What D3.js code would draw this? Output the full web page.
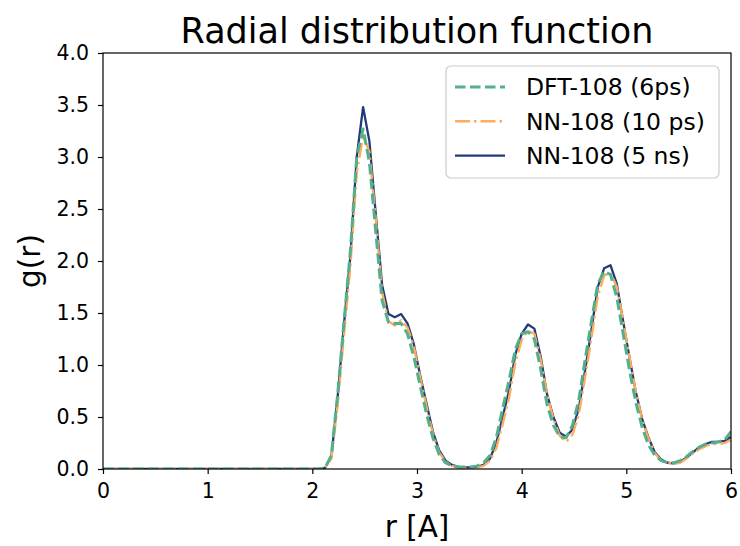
<!DOCTYPE html>
<html>
<head>
<meta charset="utf-8">
<script src="https://cdn.jsdelivr.net/npm/d3@7/dist/d3.min.js"></script>
<style>
  html, body { margin: 0; padding: 0; background: #fff; }
  svg { display: block; font-family: "DejaVu Sans", sans-serif; }
</style>
</head>
<body>
<svg id="chart" width="740" height="546"></svg>
<script>
// r grid: 100 points from 0 to 6 (r_k = k * 6 / 99)
const nPoints = 100;
const rMax = 6;

// g(r) values for k = 35..99 (k = 0..34 are zero)
const zerosBefore = 35;
const dft108_6ps = [
  0.01, 0.13, 0.72, 1.42, 2.10, 3.00, 3.27, 2.95, 2.28, 1.62,
  1.41, 1.40, 1.40, 1.30, 1.08, 0.80, 0.53, 0.30, 0.14, 0.06,
  0.03, 0.02, 0.02, 0.02, 0.03, 0.06, 0.13, 0.30, 0.58, 0.85,
  1.15, 1.30, 1.32, 1.25, 0.96, 0.62, 0.42, 0.31, 0.30, 0.42,
  0.66, 1.05, 1.42, 1.78, 1.90, 1.87, 1.65, 1.30, 0.95, 0.64,
  0.40, 0.23, 0.13, 0.08, 0.06, 0.06, 0.08, 0.12, 0.17, 0.21,
  0.24, 0.25, 0.26, 0.28, 0.36
];
const nn108_10ps = [
  0.01, 0.10, 0.62, 1.30, 1.95, 2.85, 3.20, 3.05, 2.40, 1.70,
  1.42, 1.38, 1.43, 1.36, 1.18, 0.88, 0.60, 0.34, 0.16, 0.07,
  0.03, 0.015, 0.01, 0.01, 0.015, 0.03, 0.08, 0.20, 0.43, 0.68,
  1.02, 1.24, 1.33, 1.30, 1.05, 0.72, 0.48, 0.32, 0.26, 0.33,
  0.52, 0.88, 1.26, 1.66, 1.86, 1.89, 1.75, 1.42, 1.07, 0.74,
  0.47, 0.29, 0.15, 0.08, 0.06, 0.05, 0.06, 0.10, 0.15, 0.19,
  0.22, 0.24, 0.24, 0.25, 0.28
];
const nn108_5ns = [
  0.01, 0.12, 0.70, 1.40, 2.05, 3.00, 3.48, 3.15, 2.45, 1.77,
  1.49, 1.46, 1.49, 1.40, 1.20, 0.90, 0.63, 0.36, 0.18, 0.08,
  0.04, 0.02, 0.015, 0.015, 0.02, 0.04, 0.10, 0.25, 0.50, 0.75,
  1.10, 1.30, 1.39, 1.35, 1.08, 0.72, 0.50, 0.35, 0.31, 0.38,
  0.58, 0.95, 1.34, 1.75, 1.93, 1.96, 1.78, 1.42, 1.07, 0.74,
  0.48, 0.30, 0.16, 0.09, 0.06, 0.055, 0.07, 0.11, 0.16, 0.21,
  0.24, 0.26, 0.26, 0.27, 0.31
];

const xTicks = [0, 1, 2, 3, 4, 5, 6];
const yTicks = [0, 0.5, 1.0, 1.5, 2.0, 2.5, 3.0, 3.5, 4.0];
const seriesNames = ["DFT-108 (6ps)", "NN-108 (10 ps)", "NN-108 (5 ns)"];
const seriesColors = ["#52b08c", "#ffac5c", "#253a78"];
const titleText = "Radial distribution function";
const xLabel = "r [A]";
const yLabel = "g(r)";

function buildSeries(vals) {
  const full = new Array(zerosBefore).fill(0).concat(vals);
  return full.map((g, k) => ({ r: k * rMax / (nPoints - 1), g }));
}
const series = [dft108_6ps, nn108_10ps, nn108_5ns].map(buildSeries);
const styles = [
  { width: 3, dash: "10.5,4.5" },
  { width: 2.4, dash: "15,4,2.5,4" },
  { width: 2.3, dash: null }
];

const svg = d3.select("#chart");
const m = { left: 103, right: 731, top: 53, bottom: 469 };
const x = d3.scaleLinear().domain([0, 6]).range([m.left, m.right]);
const y = d3.scaleLinear().domain([0, 4]).range([m.bottom, m.top]);

svg.append("defs").append("clipPath").attr("id", "clip")
  .append("rect").attr("x", m.left).attr("y", m.top)
  .attr("width", m.right - m.left).attr("height", m.bottom - m.top);

const line = d3.line().x(d => x(d.r)).y(d => y(d.g));
const drawOrder = [2, 1, 0];
const plot = svg.append("g").attr("clip-path", "url(#clip)");
drawOrder.forEach(i => {
  plot.append("path").datum(series[i])
    .attr("fill", "none")
    .attr("stroke", seriesColors[i])
    .attr("stroke-width", styles[i].width)
    .attr("stroke-dasharray", styles[i].dash)
    .attr("stroke-linejoin", "round")
    .attr("d", line);
});

// frame
svg.append("rect").attr("x", m.left).attr("y", m.top)
  .attr("width", m.right - m.left).attr("height", m.bottom - m.top)
  .attr("fill", "none").attr("stroke", "#000").attr("stroke-width", 1.2);

// axes
const xAxis = svg.append("g").attr("transform", `translate(0,${m.bottom})`)
  .call(d3.axisBottom(x).tickValues(xTicks).tickFormat(d3.format("d")).tickSize(5).tickPadding(9));
const yAxis = svg.append("g").attr("transform", `translate(${m.left},0)`)
  .call(d3.axisLeft(y).tickValues(yTicks).tickFormat(d3.format(".1f")).tickSize(5).tickPadding(9));
[xAxis, yAxis].forEach(a => {
  a.select(".domain").remove();
  a.selectAll(".tick line").attr("stroke", "#000").attr("stroke-width", 1.2);
  a.selectAll(".tick text").attr("fill", "#000")
    .style("font-size", "20.5px").style("font-family", "DejaVu Sans, sans-serif");
});

// title and labels
svg.append("text").attr("x", (m.left + m.right) / 2).attr("y", 43)
  .attr("text-anchor", "middle").style("font-size", "35px").text(titleText);
svg.append("text").attr("x", (m.left + m.right) / 2).attr("y", 537)
  .attr("text-anchor", "middle").style("font-size", "29.5px").text(xLabel);
svg.append("text")
  .attr("transform", `translate(40,${(m.top + m.bottom) / 2}) rotate(-90)`)
  .attr("text-anchor", "middle").style("font-size", "29.5px").text(yLabel);

// legend
const lg = svg.append("g");
lg.append("rect").attr("x", 446).attr("y", 66).attr("width", 273).attr("height", 112)
  .attr("rx", 5).attr("fill", "#fff").attr("fill-opacity", 0.8)
  .attr("stroke", "#cccccc").attr("stroke-width", 1.2);
seriesNames.forEach((name, i) => {
  const cy = 87 + i * 34.3;
  lg.append("line").attr("x1", 455).attr("x2", 505).attr("y1", cy).attr("y2", cy)
    .attr("stroke", seriesColors[i]).attr("stroke-width", styles[i].width)
    .attr("stroke-dasharray", styles[i].dash);
  lg.append("text").attr("x", 526).attr("y", cy).attr("dy", "0.36em")
    .style("font-size", "23.5px").text(name);
});
</script>
</body>
</html>
